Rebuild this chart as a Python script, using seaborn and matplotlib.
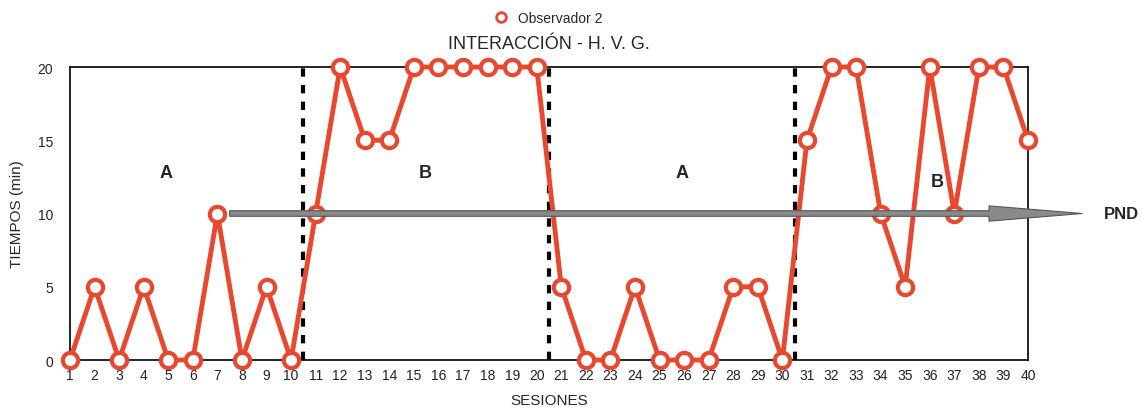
import matplotlib
matplotlib.use("Agg")
import matplotlib.pyplot as plt
import pandas as pd
import seaborn as sns

# data
sesiones = list(range(1, 41))
tiempos = [0, 5, 0, 5, 0, 0, 10, 0, 5, 0,
           10, 20, 15, 15, 20, 20, 20, 20, 20, 20,
           5, 0, 0, 5, 0, 0, 0, 5, 5, 0,
           15, 20, 20, 10, 5, 20, 10, 20, 20, 15]
fases = ["A", "B", "A", "B"]
cambios_fase = [10.5, 20.5, 30.5]

df = pd.DataFrame({"SESIONES": sesiones, "TIEMPOS (min)": tiempos,
                   "serie": "Observador 2"})

sns.set_theme(style="white")
plt.rcParams["font.family"] = ["Liberation Sans", "DejaVu Sans"]

rojo = "#e9482f"
fig = plt.figure(figsize=(11.42, 4.10), dpi=100)
ax = fig.add_axes([0.0613, 0.1195, 0.8389, 0.7146])

sns.lineplot(data=df, x="SESIONES", y="TIEMPOS (min)", hue="serie",
             palette=[rojo], marker="o", markersize=11, markerfacecolor="white",
             markeredgecolor=rojo, markeredgewidth=3, linewidth=3.5,
             ax=ax, zorder=5, clip_on=False)

for xc in cambios_fase:
    ax.axvline(xc, color="black", linestyle=(0, (2, 2)), linewidth=3, zorder=4)

# phase labels
pos_fases = [(4.9, 12.8), (15.45, 12.8), (25.9, 12.8), (36.3, 12.2)]
for (xf, yf), f in zip(pos_fases, fases):
    ax.text(xf, yf, f, fontsize=13, fontweight="bold", ha="center", va="center")

# PND arrow
ax.annotate("", xy=(42.2, 10), xytext=(7.5, 10), xycoords="data",
            arrowprops=dict(arrowstyle="simple,head_width=11,head_length=67,tail_width=4",
                            mutation_scale=1, facecolor="#8a8a8a", edgecolor="#555555",
                            linewidth=0.8, shrinkA=0, shrinkB=0),
            annotation_clip=False, zorder=6)
ax.text(43.1, 10, "PND", fontsize=12, fontweight="bold", ha="left", va="center")

ax.set_xlim(1, 40)
ax.set_ylim(0, 20)
ax.set_xticks(sesiones)
ax.set_yticks([0, 5, 10, 15, 20])
ax.tick_params(axis="both", labelsize=10, length=0, colors="#222222")
ax.tick_params(axis="x", pad=6)
ax.tick_params(axis="y", pad=12)
for s in ax.spines.values():
    s.set_color("black")
    s.set_linewidth(1.2)

ax.set_xlabel("SESIONES", fontsize=11, labelpad=8)
ax.set_ylabel("TIEMPOS (min)", fontsize=11, labelpad=10)
ax.set_title("INTERACCIÓN - H. V. G.", fontsize=13, pad=14)

leg = ax.legend(loc="lower center", bbox_to_anchor=(0.5, 1.125), frameon=False,
                fontsize=10, handlelength=0.8, borderaxespad=0)
for h in leg.legend_handles:
    h.set_linestyle("")
    h.set_markersize(7)
    h.set_markeredgewidth(2)

fig.savefig("out.png", dpi=100)
